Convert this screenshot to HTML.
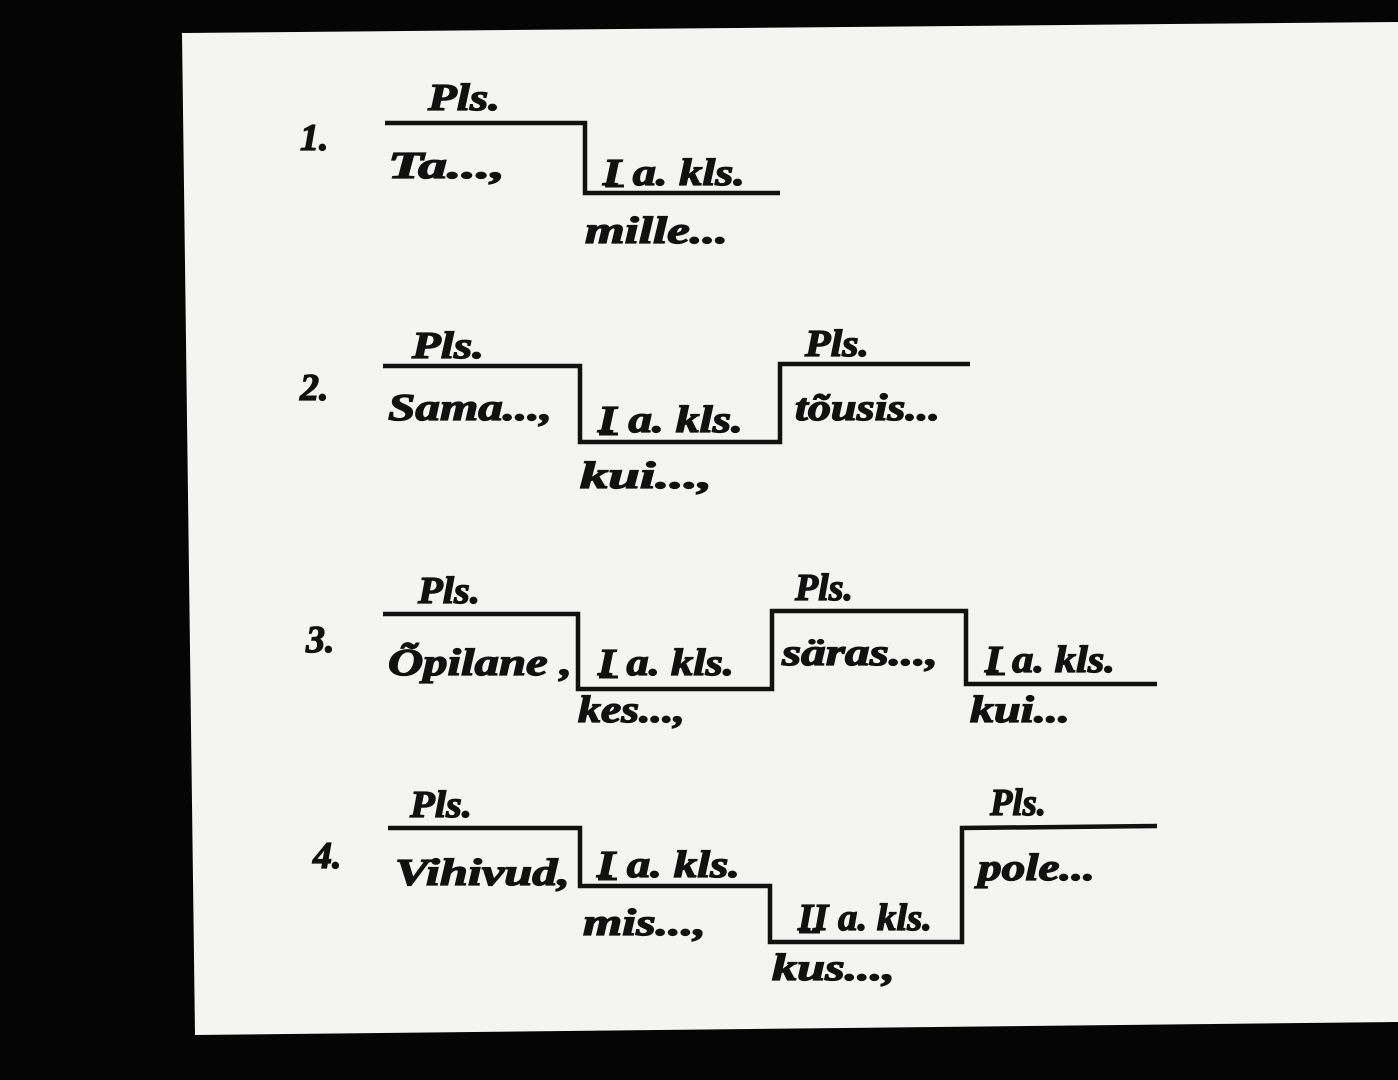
<!DOCTYPE html>
<html><head><meta charset="utf-8"><style>
html,body{margin:0;padding:0;background:#000;}
svg{display:block}
text{font-family:"Liberation Serif",serif;font-style:italic;font-weight:bold;fill:#111;stroke:#111;stroke-width:1.3;}
</style></head><body>
<svg width="1398" height="1080" viewBox="0 0 1398 1080" xmlns="http://www.w3.org/2000/svg">
<rect width="1398" height="1080" fill="#050505"/>
<polygon points="182,33 1398,22 1398,1022 195,1035" fill="#f4f4f2"/>
<g fill="none" stroke="#111" stroke-width="4.5" stroke-linejoin="miter">
<polyline points="385,123 585,123 585,193 780,193"/>
<polyline points="383,366 580,366 580,442 780,442 780,364 970,364"/>
<polyline points="383,614 578,614 578,689 772,689 772,611 966,611 966,684 1157,684"/>
<polyline points="388,828 580,828 580,886 770,886 770,942 962,942 962,828 1157,826"/>
</g>
<g stroke="#111" stroke-width="3">
<line x1="605" y1="186" x2="624" y2="186"/>
<line x1="599" y1="434" x2="618" y2="434"/>
<line x1="599" y1="677" x2="618" y2="677"/>
<line x1="986" y1="674" x2="1005" y2="674"/>
<line x1="598" y1="879" x2="617" y2="879"/>
<line x1="799" y1="932" x2="820" y2="932"/>
</g>
<g font-size="38">
<text x="300" y="150" font-style="normal">1.</text>
<text x="300" y="400" font-style="normal">2.</text>
<text x="306" y="652" font-style="normal">3.</text>
<text x="313" y="868" font-style="normal">4.</text>

<text x="428" y="110" textLength="72" lengthAdjust="spacingAndGlyphs">Pls.</text>
<text x="388" y="178" textLength="117" lengthAdjust="spacingAndGlyphs">Ta...,</text>
<text x="603" y="185" textLength="142" lengthAdjust="spacingAndGlyphs">I a. kls.</text>
<text x="585" y="243" textLength="143" lengthAdjust="spacingAndGlyphs">mille...</text>

<text x="412" y="358" textLength="72" lengthAdjust="spacingAndGlyphs">Pls.</text>
<text x="388" y="420" textLength="164" lengthAdjust="spacingAndGlyphs">Sama...,</text>
<text x="598" y="432" textLength="145" lengthAdjust="spacingAndGlyphs">I a. kls.</text>
<text x="580" y="488" textLength="132" lengthAdjust="spacingAndGlyphs">kui...,</text>
<text x="805" y="356" textLength="64" lengthAdjust="spacingAndGlyphs">Pls.</text>
<text x="795" y="420" textLength="145" lengthAdjust="spacingAndGlyphs">tõusis...</text>

<text x="418" y="603" textLength="62" lengthAdjust="spacingAndGlyphs">Pls.</text>
<text x="388" y="675" textLength="184" lengthAdjust="spacingAndGlyphs">Õpilane ,</text>
<text x="598" y="675" textLength="136" lengthAdjust="spacingAndGlyphs">I a. kls.</text>
<text x="578" y="722" textLength="107" lengthAdjust="spacingAndGlyphs">kes...,</text>
<text x="795" y="600" textLength="58" lengthAdjust="spacingAndGlyphs">Pls.</text>
<text x="782" y="665" textLength="156" lengthAdjust="spacingAndGlyphs">säras...,</text>
<text x="985" y="672" textLength="130" lengthAdjust="spacingAndGlyphs">I a. kls.</text>
<text x="970" y="722" textLength="100" lengthAdjust="spacingAndGlyphs">kui...</text>

<text x="410" y="817" textLength="62" lengthAdjust="spacingAndGlyphs">Pls.</text>
<text x="395" y="885" textLength="175" lengthAdjust="spacingAndGlyphs">Vihivud,</text>
<text x="597" y="877" textLength="143" lengthAdjust="spacingAndGlyphs">I a. kls.</text>
<text x="583" y="935" textLength="123" lengthAdjust="spacingAndGlyphs">mis...,</text>
<text x="798" y="930" textLength="134" lengthAdjust="spacingAndGlyphs">II a. kls.</text>
<text x="772" y="980" textLength="123" lengthAdjust="spacingAndGlyphs">kus...,</text>
<text x="990" y="815" textLength="56" lengthAdjust="spacingAndGlyphs">Pls.</text>
<text x="978" y="880" textLength="117" lengthAdjust="spacingAndGlyphs">pole...</text>
</g>
</svg>
</body></html>
